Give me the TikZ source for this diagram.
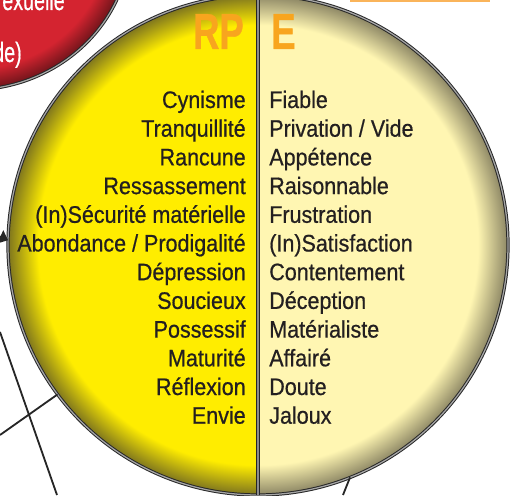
\documentclass[tikz,border=0pt]{standalone}
\usepackage{fontspec}
\newfontfamily\condfont[FakeStretch=0.9, FakeBold=0.6]{Liberation Sans}
\newfontfamily\titlefont[FakeStretch=0.72, FakeBold=0.8]{Liberation Sans}
\newfontfamily\redfont[FakeStretch=0.7, FakeBold=0.5]{Liberation Sans}
\usepackage{tikz}
\usetikzlibrary{positioning, arrows.meta, calc}
\usepackage{xcolor}
\definecolor{rpyellow}{RGB}{255, 237, 0}
\definecolor{rpyellowrim}{RGB}{125, 116, 30}
\definecolor{elight}{RGB}{255, 246, 178}
\definecolor{elightrim}{RGB}{140, 134, 100}
\definecolor{keyorange}{RGB}{248, 165, 30}
\definecolor{boxorange}{RGB}{250, 180, 90}
\definecolor{sexred}{RGB}{212, 36, 48}
\definecolor{sexredrim}{RGB}{110, 20, 26}
\definecolor{inktext}{RGB}{35, 31, 32}
\pgfdeclareradialshading{rpshade}{\pgfpoint{0bp}{0bp}}{color(0bp)=(rpyellow); color(22bp)=(rpyellow); color(25bp)=(rpyellowrim); color(50bp)=(rpyellowrim)}
\pgfdeclareradialshading{eshade}{\pgfpoint{0bp}{0bp}}{color(0bp)=(elight); color(22bp)=(elight); color(25bp)=(elightrim); color(50bp)=(elightrim)}
\pgfdeclareradialshading{redshade}{\pgfpoint{0bp}{0bp}}{color(0bp)=(sexred); color(21.5bp)=(sexred); color(25bp)=(sexredrim); color(50bp)=(sexredrim)}

\begin{document}
\begin{tikzpicture}[>=Stealth,
    rim/.style={draw=black!85, line width=0.7pt, double=black!35, double distance=0.9pt},
    wire/.style={draw=black!85, line width=1.3pt},
    lbl/.style={inner sep=0pt, text=inktext, font=\condfont\fontsize{17}{20}\selectfont},
    head/.style={inner sep=0pt, text=keyorange, font=\titlefont\bfseries\fontsize{36}{40}\selectfont}]
  \useasboundingbox (0,0) rectangle (12.925,12.375);
  \clip (0,0) rectangle (12.925,12.375);

  % red bubble, top left
  \coordinate (redc) at (-0.75,13.875);
  \shade[shading=redshade] (redc) ellipse [x radius=4, y radius=3.75];
  \draw[rim] (redc) ellipse [x radius=4, y radius=3.75];
  \node[inner sep=0pt, anchor=base east, text=white, font=\redfont\fontsize{20}{24}\selectfont] (sexe) at (1.625,12.125) {exuelle};
  \node[inner sep=0pt, anchor=base east, text=white, font=\redfont\fontsize{20}{24}\selectfont] (vide) at (0.55,10.825) {de)};

  % orange box, top right
  \draw[boxorange, line width=1.2pt, fill=white] (8.775,12.35) rectangle (12.225,13);

  % disc
  \coordinate (c) at (6.45,6.25);
  \begin{scope}
    \clip (0,0) rectangle (6.45,13);
    \shade[shading=rpshade] (c) circle [radius=6.25];
  \end{scope}
  \begin{scope}
    \clip (6.45,0) rectangle (13,13);
    \shade[shading=eshade] (c) circle [radius=6.25];
  \end{scope}
  \draw[rim] (c) circle [radius=6.25];
  \draw[draw=black!85, line width=0.7pt, double=black!45, double distance=1.6pt]
    ($(c)+(90:6.25)$) -- ($(c)+(-90:6.25)$);

  % connectors
  \coordinate (w1) at (0,4.075);
  \coordinate (w2) at (1.425,0);
  \coordinate (w3) at (0,1.5);
  \coordinate (w4) at (8.575,0);
  \coordinate (w5) at (-0.6,6.725);
  \draw[wire] (w1) -- (w2);
  \draw[wire] (w3) -- ($(c)+(216.7:6.25)$);
  \draw[wire] ($(c)+(-68.4:6.25)$) -- (w4);
  \draw[wire, -{Triangle[length=6pt, width=10pt]}] (w5) -- ($(c)+(178.9:6.25)$);

  % headings
  \node[head, anchor=base east] (rp) at (6.1,11.15) {RP};
  \node[head, anchor=base west] (e)  at (6.775,11.15) {E};

  % RP column
  \foreach \word [count=\i] in {Cynisme, Tranquillité, Rancune, Ressassement,
      (In)Sécurité matérielle, Abondance / Prodigalité, Dépression, Soucieux,
      Possessif, Maturité, Réflexion, Envie}
    \node[lbl, anchor=base east] (rp\i) at (6.15,{9.675-(\i-1)*0.7175}) {\word};

  % E column
  \foreach \word [count=\i] in {Fiable, Privation / Vide, Appétence, Raisonnable,
      Frustration, (In)Satisfaction, Contentement, Déception, Matérialiste,
      Affairé, Doute, Jaloux}
    \node[lbl, anchor=base west] (e\i) at (6.725,{9.675-(\i-1)*0.7175}) {\word};
\end{tikzpicture}
\end{document}
